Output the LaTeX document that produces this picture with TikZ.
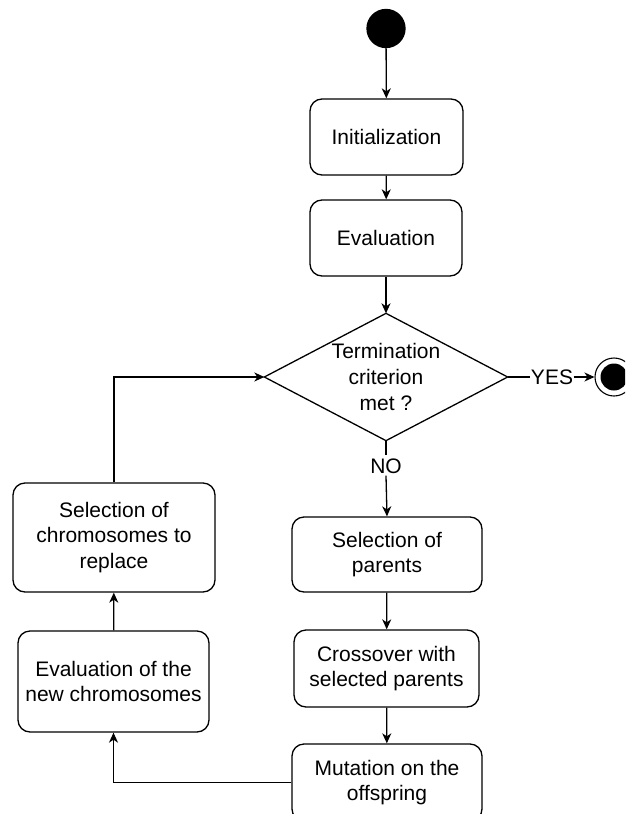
\documentclass[tikz,border=0pt]{standalone}
\usepackage{fontspec}
\setmainfont{Liberation Sans}
\usetikzlibrary{arrows.meta}
\begin{document}
\begin{tikzpicture}[x=1pt,y=-1pt,
  line width=1.3pt,
  every node/.style={font=\fontsize{21}{25.8}\selectfont},
  box/.style={draw,rounded corners=12pt,align=center,inner sep=0pt},
  arr/.style={-{Stealth[length=10pt,width=9pt,inset=3pt]}},
  lbl/.style={inner sep=0pt,text height=15pt,text depth=0pt}
]
\useasboundingbox (0,0) rectangle (625,814);
\clip (0,0) rectangle (625,814);
\node[circle,fill=black,draw,minimum size=38pt,inner sep=0pt] (start) at (386,28.5) {};
\node[box,minimum width=153pt,minimum height=76pt] (init) at (386.5,137) {Initialization};
\node[box,minimum width=152pt,minimum height=76pt] (eval) at (386,238) {Evaluation};
\node[align=center,inner sep=0pt,minimum width=242pt,minimum height=126pt] (dec) at (386,377) {Termination\\criterion\\met ?};
\draw (dec.north) -- (dec.east) -- (dec.south) -- (dec.west) -- cycle;
\node[circle,draw,line width=1.1pt,minimum size=38pt,inner sep=0pt] (end) at (614,377) {};
\node[circle,fill=black,minimum size=27pt,inner sep=0pt] (endin) at (614,377) {};
\node[lbl] (yes) at (552,377) {YES};
\node[lbl,inner sep=2pt] (no) at (386,465.5) {NO};
\node[box,minimum width=190pt,minimum height=75pt] (selpar) at (387,554.5) {Selection of\\parents};
\node[box,minimum width=185pt,minimum height=77pt] (cross) at (386.5,668.5) {Crossover with\\selected parents};
\node[box,minimum width=190pt,minimum height=77pt] (mut) at (387,782.5) {Mutation on the\\offspring};
\node[box,minimum width=191pt,minimum height=101pt] (evalnew) at (113.5,681.5) {Evaluation of the\\new chromosomes};
\node[box,minimum width=202pt,minimum height=109pt] (selrep) at (114,537.5) {Selection of\\chromosomes to\\replace};
\draw[arr] (start) -- (init);
\draw[arr] (init) -- (eval);
\draw[arr] (eval) -- (dec.north);
\draw (dec.east) -- (yes.west);
\draw[arr] (yes.east) -- (end.west);
\draw (dec.south) -- (no.north);
\draw[arr] (no.south) -- (selpar.north);
\draw[arr] (selpar) -- (cross);
\draw[arr] (cross) -- (mut);
\draw[arr] (mut.west) -| (evalnew.south);
\draw[arr] (evalnew) -- (selrep);
\draw[arr] (selrep.north) |- (dec.west);
\end{tikzpicture}
\end{document}
